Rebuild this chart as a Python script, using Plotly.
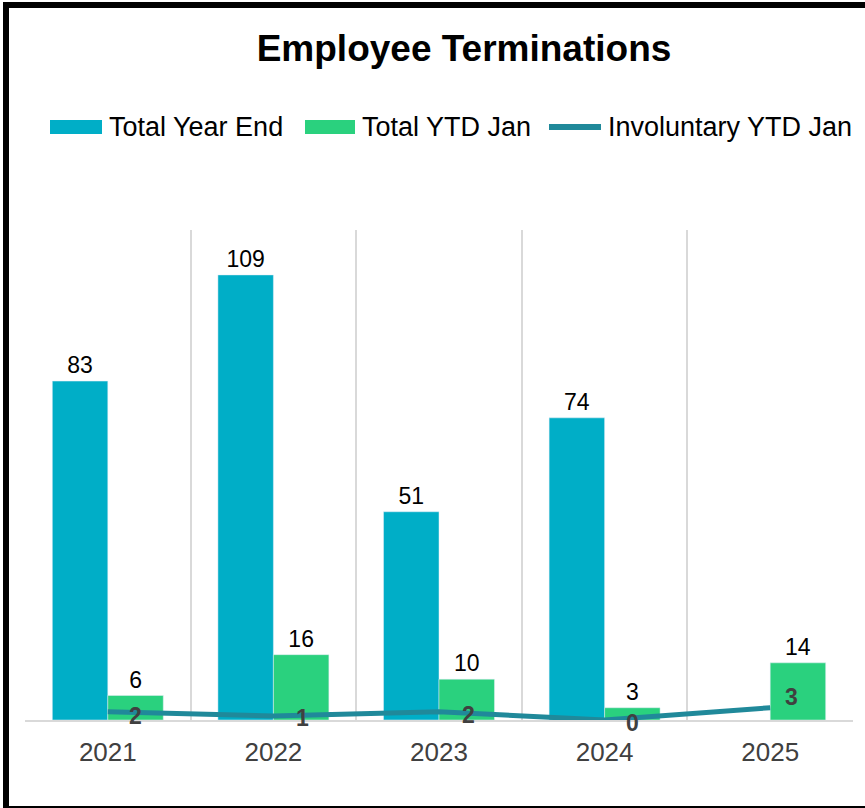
import plotly.graph_objects as go

# ---- data ----
years = ["2021", "2022", "2023", "2024", "2025"]
total_year_end = [83, 109, 51, 74, None]
total_ytd_jan = [6, 16, 10, 3, 14]
involuntary_ytd_jan = [2, 1, 2, 0, 3]
series_names = ["Total Year End", "Total YTD Jan", "Involuntary YTD Jan"]

# ---- styling ----
FONT = "Liberation Sans, Arial, sans-serif"
BLUE = "#00AEC7"
GREEN = "#2AD17E"
TEAL = "#20899A"
GRID = "#D9D9D9"

W, H = 865, 808
ML, MR, MT, MB = 25, 12, 230, 88
PW, PH = W - ML - MR, H - MT - MB


def px(x):
    return (x - ML) / PW


def py(y):
    return (H - MB - y) / PH


fig = go.Figure()
fig.add_trace(go.Bar(
    x=years, y=total_year_end, name=series_names[0], marker_color=BLUE,
    text=[str(v) if v is not None else "" for v in total_year_end],
    textposition="outside", textfont=dict(size=23, color="#000000", family=FONT),
    cliponaxis=False,
))
fig.add_trace(go.Bar(
    x=years, y=total_ytd_jan, name=series_names[1], marker_color=GREEN,
    text=[str(v) for v in total_ytd_jan],
    textposition="outside", textfont=dict(size=23, color="#000000", family=FONT),
    cliponaxis=False,
))
fig.add_trace(go.Scatter(
    x=years, y=involuntary_ytd_jan, name=series_names[2], mode="lines",
    line=dict(color=TEAL, width=5), cliponaxis=False,
))

# value labels for the line, placed to the right of each point
label_dx = [28, 29, 29, 28, 21]
label_dy = [-4, -2, -3, -3, 11]
for i, (v, dx, dy) in enumerate(zip(involuntary_ytd_jan, label_dx, label_dy)):
    fig.add_annotation(
        x=i, y=v, xref="x", yref="y", text=f"<b>{v}</b>", showarrow=False,
        xshift=dx, yshift=dy,
        font=dict(size=23, color="#404040", family=FONT),
    )

# legend drawn as swatches plus labels
shapes = []
legend_y = 127
swatches = [(50, 102, "rect", BLUE), (305, 355, "rect", GREEN), (549, 601, "line", TEAL)]
text_x = [107, 360, 606]
for (x0, x1, kind, col), tx, name in zip(swatches, text_x, series_names):
    if kind == "rect":
        shapes.append(dict(type="rect", xref="paper", yref="paper",
                           x0=px(x0), x1=px(x1), y0=py(legend_y + 7), y1=py(legend_y - 7),
                           fillcolor=col, line=dict(width=0)))
    else:
        shapes.append(dict(type="line", xref="paper", yref="paper",
                           x0=px(x0), x1=px(x1), y0=py(legend_y), y1=py(legend_y),
                           line=dict(color=col, width=6)))
    fig.add_annotation(xref="paper", yref="paper", x=px(tx), y=py(legend_y),
                       xanchor="left", yanchor="middle", showarrow=False,
                       text=name, font=dict(size=27, color="#000000", family=FONT))

# outer frame
shapes.append(dict(type="rect", xref="paper", yref="paper",
                   x0=px(6), x1=px(869), y0=py(809), y1=py(5),
                   line=dict(color="#000000", width=6), fillcolor="rgba(0,0,0,0)"))

fig.update_layout(
    width=W, height=H, autosize=False,
    margin=dict(l=ML, r=MR, t=MT, b=MB, pad=0),
    paper_bgcolor="white", plot_bgcolor="white",
    barmode="group", bargap=0.33, bargroupgap=0,
    showlegend=False,
    font=dict(family=FONT),
    title=dict(text="<b>Employee Terminations</b>", x=464 / W, xanchor="center",
               y=1 - 48 / H, yanchor="middle", xref="container", yref="container",
               font=dict(size=37, color="#000000", family=FONT)),
    shapes=shapes,
)
fig.update_xaxes(
    type="category", range=[-0.5, 4.5], tickson="boundaries",
    showgrid=True, gridcolor=GRID, gridwidth=1.5,
    showline=True, linecolor=GRID, linewidth=2,
    ticks="", ticklabelstandoff=8,
    tickfont=dict(size=26, color="#404040", family=FONT),
    fixedrange=True,
)
fig.update_yaxes(range=[0, 120], visible=False, fixedrange=True)

fig.write_html("out.html")
